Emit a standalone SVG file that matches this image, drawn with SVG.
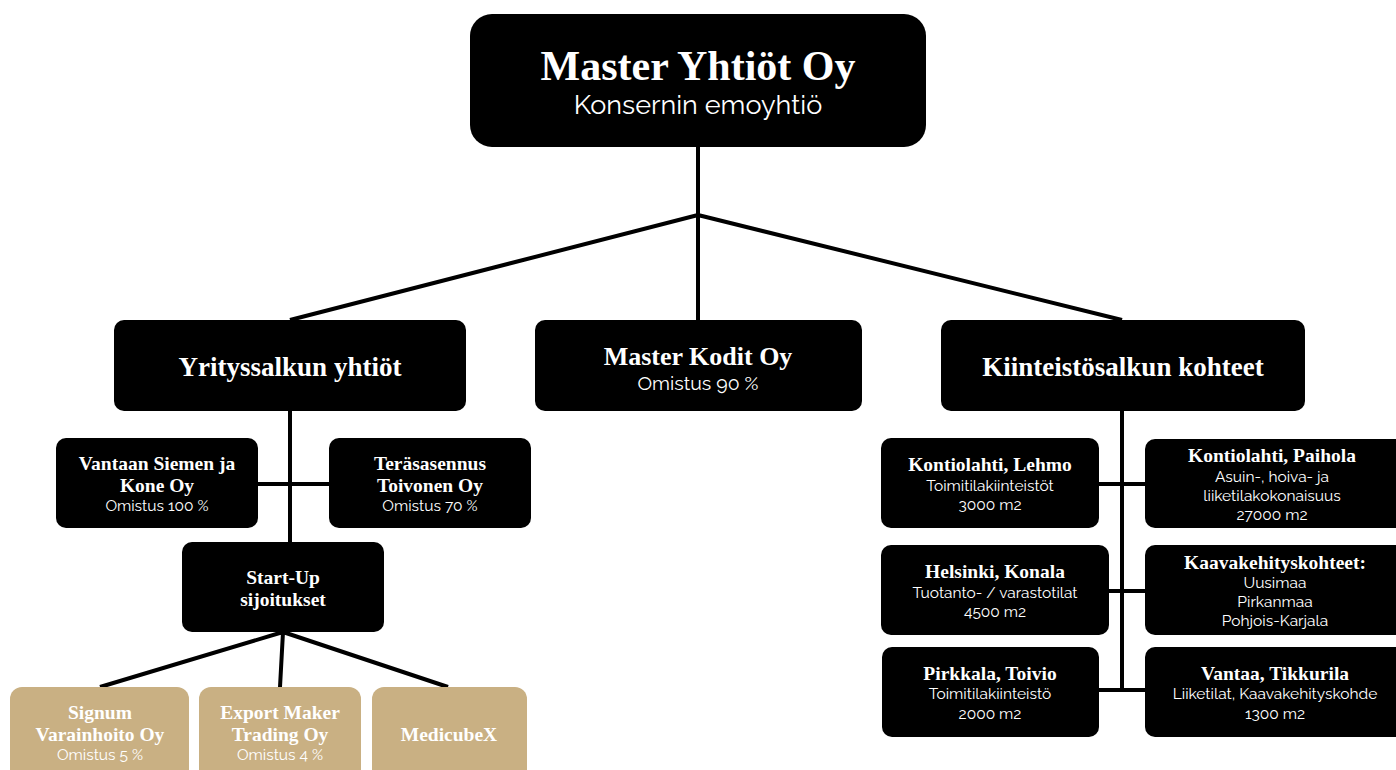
<svg xmlns="http://www.w3.org/2000/svg" width="1396" height="770" viewBox="0 0 1396 770">
<style>
.b{fill:#000}
.t{fill:#c9b083}
.h{font-family:"Liberation Serif",serif;font-weight:bold;fill:#fff;text-anchor:middle}
.h0{font-family:"Liberation Serif",serif;font-weight:bold;fill:#fff;text-anchor:middle;font-size:42px}
.s{font-family:Raleway,Lato,"Open Sans",sans-serif;font-weight:400;fill:#fff;text-anchor:middle}
.c{stroke:#000;stroke-width:4;fill:none}
</style>
<rect width="1396" height="770" fill="#fff"/>
<g id="connectors" class="c">
<path d="M698 147V320M698 215L290 320M698 215L1122 320"/>
<path d="M290 411V542M258 484H329"/>
<path d="M283 632L100 687M283 632L280 687M283 632L448 687"/>
<path d="M1122 411V690M1099 484H1145M1109 591H1145M1099 690H1145"/>
</g>
<g id="n-master"><rect class="b" x="470" y="14" width="456" height="133" rx="22"/>
<text class="h0" x="698" y="80">Master Yhtiöt Oy</text>
<text class="s" x="698" y="114" font-size="27">Konsernin emoyhtiö</text></g>
<g id="n-yritys"><rect class="b" x="114" y="320" width="352" height="91" rx="10"/>
<text class="h" x="290" y="376" font-size="27">Yrityssalkun yhtiöt</text></g>
<g id="n-kodit"><rect class="b" x="535" y="320" width="327" height="91" rx="10"/>
<text class="h" x="698" y="365" font-size="26">Master Kodit Oy</text>
<text class="s" x="698" y="390" font-size="19.5">Omistus 90 %</text></g>
<g id="n-kiint"><rect class="b" x="941" y="320" width="364" height="91" rx="10"/>
<text class="h" x="1123" y="376" font-size="27">Kiinteistösalkun kohteet</text></g>
<g id="n-vantaan"><rect class="b" x="56" y="438" width="202" height="90" rx="10"/>
<text class="h" x="157" y="470" font-size="19.5">Vantaan Siemen ja</text>
<text class="h" x="157" y="492" font-size="19.5">Kone Oy</text>
<text class="s" x="157" y="511" font-size="15.5">Omistus 100 %</text></g>
<g id="n-teras"><rect class="b" x="329" y="438" width="202" height="90" rx="10"/>
<text class="h" x="430" y="470" font-size="19.5">Teräsasennus</text>
<text class="h" x="430" y="492" font-size="19.5">Toivonen Oy</text>
<text class="s" x="430" y="511" font-size="15.5">Omistus 70 %</text></g>
<g id="n-startup"><rect class="b" x="182" y="542" width="202" height="90" rx="10"/>
<text class="h" x="283" y="584" font-size="19.5">Start-Up</text>
<text class="h" x="283" y="606" font-size="19.5">sijoitukset</text></g>
<g id="n-signum"><rect class="t" x="10" y="687" width="179" height="95" rx="12"/>
<text class="h" x="100" y="719" font-size="19.5">Signum</text>
<text class="h" x="100" y="741" font-size="19.5">Varainhoito Oy</text>
<text class="s" x="100" y="760" font-size="15.5">Omistus 5 %</text></g>
<g id="n-export"><rect class="t" x="199" y="687" width="162" height="95" rx="12"/>
<text class="h" x="280" y="719" font-size="19.5">Export Maker</text>
<text class="h" x="280" y="741" font-size="19.5">Trading Oy</text>
<text class="s" x="280" y="760" font-size="15.5">Omistus 4 %</text></g>
<g id="n-medicube"><rect class="t" x="372" y="687" width="155" height="95" rx="12"/>
<text class="h" x="449" y="741" font-size="19.5">MedicubeX</text></g>
<g id="n-lehmo"><rect class="b" x="881" y="438" width="218" height="90" rx="10"/>
<text class="h" x="990" y="471" font-size="19.5">Kontiolahti, Lehmo</text>
<text class="s" x="990" y="491" font-size="15.5">Toimitilakiinteistöt</text>
<text class="s" x="990" y="510" font-size="15.5">3000 m2</text></g>
<g id="n-paihola"><rect class="b" x="1145" y="439" width="262" height="89" rx="10"/>
<text class="h" x="1272" y="462" font-size="19.5">Kontiolahti, Paihola</text>
<text class="s" x="1272" y="482" font-size="15.5">Asuin-, hoiva- ja</text>
<text class="s" x="1272" y="501" font-size="15.5">liiketilakokonaisuus</text>
<text class="s" x="1272" y="520" font-size="15.5">27000 m2</text></g>
<g id="n-konala"><rect class="b" x="881" y="545" width="228" height="90" rx="10"/>
<text class="h" x="995" y="578" font-size="19.5">Helsinki, Konala</text>
<text class="s" x="995" y="598" font-size="15.5">Tuotanto- / varastotilat</text>
<text class="s" x="995" y="617" font-size="15.5">4500 m2</text></g>
<g id="n-kaava"><rect class="b" x="1145" y="545" width="262" height="90" rx="10"/>
<text class="h" x="1275" y="569" font-size="19.5">Kaavakehityskohteet:</text>
<text class="s" x="1275" y="588" font-size="15.5">Uusimaa</text>
<text class="s" x="1275" y="607" font-size="15.5">Pirkanmaa</text>
<text class="s" x="1275" y="626" font-size="15.5">Pohjois-Karjala</text></g>
<g id="n-toivio"><rect class="b" x="882" y="647" width="217" height="90" rx="10"/>
<text class="h" x="990" y="680" font-size="19.5">Pirkkala, Toivio</text>
<text class="s" x="990" y="699" font-size="15.5">Toimitilakiinteistö</text>
<text class="s" x="990" y="719" font-size="15.5">2000 m2</text></g>
<g id="n-tikkurila"><rect class="b" x="1145" y="647" width="262" height="90" rx="10"/>
<text class="h" x="1275" y="680" font-size="19.5">Vantaa, Tikkurila</text>
<text class="s" x="1275" y="699" font-size="15.5">Liiketilat, Kaavakehityskohde</text>
<text class="s" x="1275" y="719" font-size="15.5">1300 m2</text></g>
</svg>
